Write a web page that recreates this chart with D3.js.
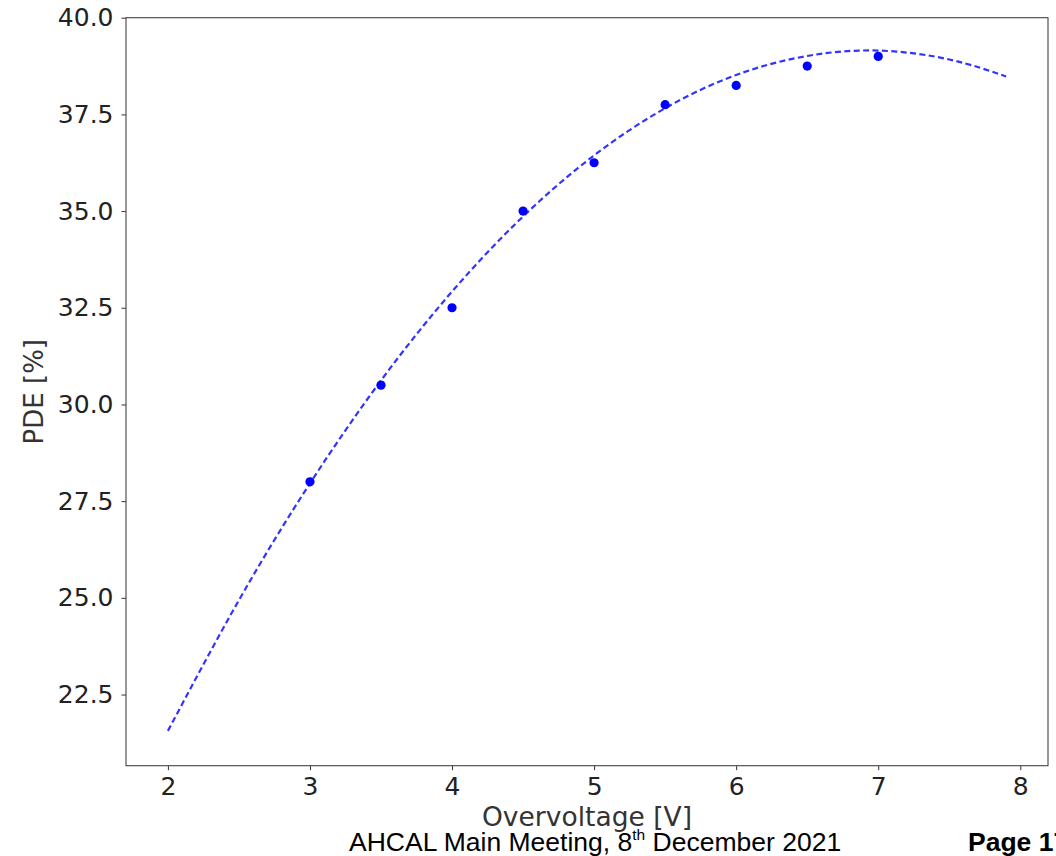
<!DOCTYPE html>
<html>
<head>
<meta charset="utf-8">
<script src="https://cdn.jsdelivr.net/npm/d3@7"></script>
<style>
  html, body { margin: 0; padding: 0; background: #fff; overflow: hidden; }
  svg { display: block; }
</style>
</head>
<body>
<svg id="chart" width="1056" height="856"></svg>
<script>
// Measured PDE at each overvoltage
const overvoltage = [3, 3.5, 4, 4.5, 5, 5.5, 6, 6.5, 7];
const pde = [28.0, 30.5, 32.5, 35.0, 36.25, 37.75, 38.25, 38.75, 39.0];

// Polynomial fit sampled along the voltage range
const fitVoltage = [2, 2.5, 3, 3.5, 4, 4.5, 5, 5.5, 6, 6.5, 7, 7.5, 7.9];
const fitPde = [21.56, 24.94, 27.96, 30.62, 32.92, 34.86, 36.44, 37.66, 38.52, 39.01, 39.15, 38.92, 38.48];

// Axis ticks
const xTicks = [2, 3, 4, 5, 6, 7, 8];
const yTicks = [22.5, 25.0, 27.5, 30.0, 32.5, 35.0, 37.5, 40.0];

const svg = d3.select("#chart");
const plot = { left: 126, right: 1048, top: 17.7, bottom: 765.7 };

const x = d3.scaleLinear().domain([1.705, 8.195]).range([plot.left, plot.right]);
const y = d3.scaleLinear().domain([20.66, 40.0]).range([plot.bottom, plot.top]);

const tickFont = "'DejaVu Sans', sans-serif";

// x axis
const xAxis = svg.append("g")
  .attr("transform", `translate(0,${plot.bottom})`)
  .call(d3.axisBottom(x).tickValues(xTicks).tickFormat(d3.format("d")).tickSize(4.5).tickPadding(7));
xAxis.select(".domain").remove();
xAxis.selectAll("line").attr("stroke", "#333").attr("stroke-width", 1);
xAxis.selectAll("text").attr("font-family", tickFont).attr("font-size", 25).attr("fill", "#222");

// y axis
const yAxis = svg.append("g")
  .attr("transform", `translate(${plot.left},0)`)
  .call(d3.axisLeft(y).tickValues(yTicks).tickFormat(d3.format(".1f")).tickSize(4.5).tickPadding(8));
yAxis.select(".domain").remove();
yAxis.selectAll("line").attr("stroke", "#333").attr("stroke-width", 1);
yAxis.selectAll("text").attr("font-family", tickFont).attr("font-size", 25).attr("fill", "#222");

// frame
svg.append("rect")
  .attr("x", plot.left).attr("y", plot.top)
  .attr("width", plot.right - plot.left).attr("height", plot.bottom - plot.top)
  .attr("fill", "none").attr("stroke", "#444").attr("stroke-width", 1.1);

// fit curve
const line = d3.line()
  .x((d, i) => x(fitVoltage[i]))
  .y(d => y(d))
  .curve(d3.curveNatural);
svg.append("path")
  .datum(fitPde)
  .attr("d", line)
  .attr("fill", "none")
  .attr("stroke", "rgb(51,51,255)")
  .attr("stroke-width", 2.2)
  .attr("stroke-dasharray", "6,3.4");

// measured points
svg.append("g").selectAll("circle")
  .data(pde)
  .join("circle")
  .attr("cx", (d, i) => x(overvoltage[i]))
  .attr("cy", d => y(d))
  .attr("r", 4.6)
  .attr("fill", "#0000ff");

// axis titles
svg.append("text")
  .attr("x", (plot.left + plot.right) / 2)
  .attr("y", 826)
  .attr("text-anchor", "middle")
  .attr("font-family", tickFont)
  .attr("font-size", 26.5)
  .attr("fill", "#333")
  .text("Overvoltage [V]");

svg.append("text")
  .attr("transform", `translate(43,${(plot.top + plot.bottom) / 2}) rotate(-90)`)
  .attr("text-anchor", "middle")
  .attr("font-family", tickFont)
  .attr("font-size", 26)
  .attr("fill", "#333")
  .text("PDE [%]");

// slide footer
const footer = svg.append("text")
  .attr("x", 349)
  .attr("y", 851)
  .attr("font-family", "'Liberation Sans', Arial, sans-serif")
  .attr("font-size", 26.5)
  .attr("fill", "#000");
footer.append("tspan").text("AHCAL Main Meeting, 8");
footer.append("tspan").attr("font-size", 15.5).attr("dy", -11).text("th");
footer.append("tspan").attr("dy", 11).text(" December 2021");

svg.append("text")
  .attr("x", 968)
  .attr("y", 851)
  .attr("font-family", "'Liberation Sans', Arial, sans-serif")
  .attr("font-size", 26.5)
  .attr("font-weight", "bold")
  .attr("fill", "#000")
  .text("Page 17");
</script>
</body>
</html>
